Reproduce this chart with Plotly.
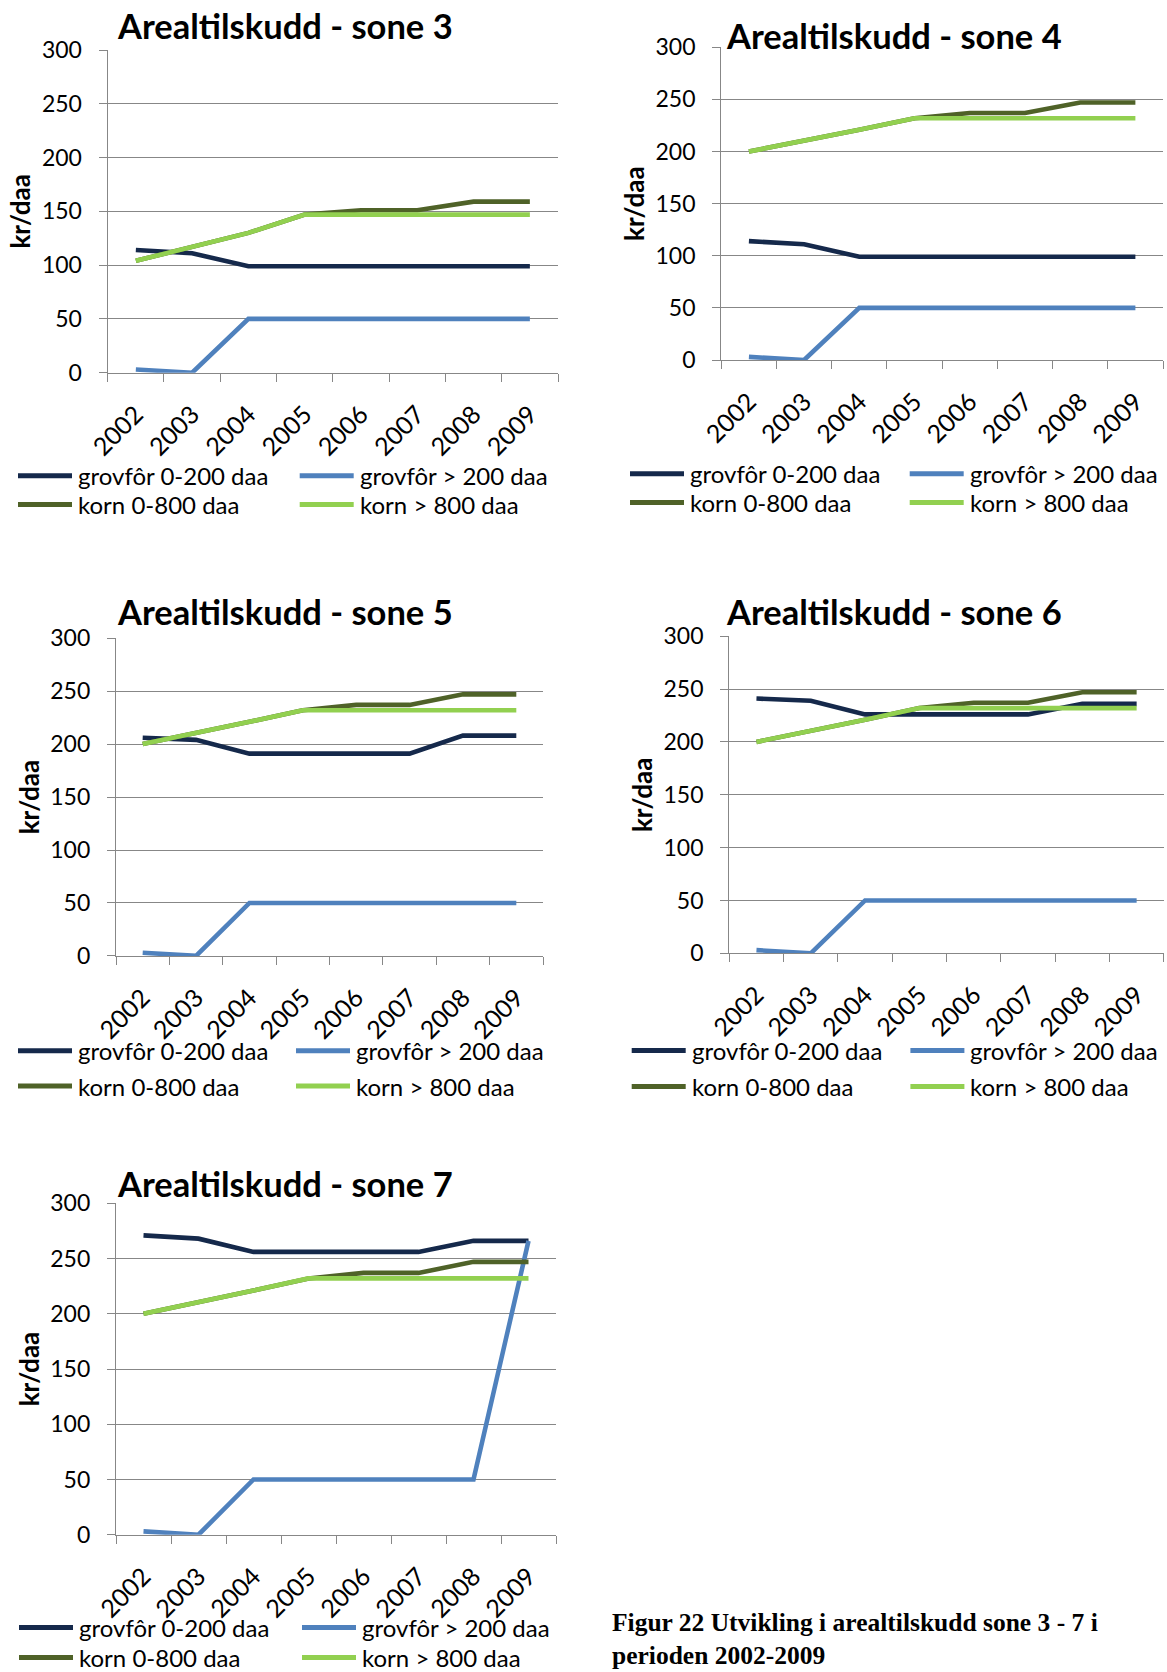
import plotly.graph_objects as go

# ---------------- data ----------------
years = ["2002", "2003", "2004", "2005", "2006", "2007", "2008", "2009"]
series_names = ["grovfôr 0-200 daa", "grovfôr > 200 daa", "korn 0-800 daa", "korn > 800 daa"]

sone3_grov_0_200 = [114, 111, 99, 99, 99, 99, 99, 99]
sone3_grov_over_200 = [3, 0, 50, 50, 50, 50, 50, 50]
sone3_korn_0_800 = [104, 117, 130, 147, 151, 151, 159, 159]
sone3_korn_over_800 = [104, 117, 130, 147, 147, 147, 147, 147]

sone4_grov_0_200 = [114, 111, 99, 99, 99, 99, 99, 99]
sone4_grov_over_200 = [3, 0, 50, 50, 50, 50, 50, 50]
sone4_korn_0_800 = [200, 210, 221, 232, 237, 237, 247, 247]
sone4_korn_over_800 = [200, 210, 221, 232, 232, 232, 232, 232]

sone5_grov_0_200 = [206, 204, 191, 191, 191, 191, 208, 208]
sone5_grov_over_200 = [3, 0, 50, 50, 50, 50, 50, 50]
sone5_korn_0_800 = [200, 210, 221, 232, 237, 237, 247, 247]
sone5_korn_over_800 = [200, 210, 221, 232, 232, 232, 232, 232]

sone6_grov_0_200 = [241, 239, 226, 226, 226, 226, 236, 236]
sone6_grov_over_200 = [3, 0, 50, 50, 50, 50, 50, 50]
sone6_korn_0_800 = [200, 210, 221, 232, 237, 237, 247, 247]
sone6_korn_over_800 = [200, 210, 221, 232, 232, 232, 232, 232]

sone7_grov_0_200 = [271, 268, 256, 256, 256, 256, 266, 266]
sone7_grov_over_200 = [3, 0, 50, 50, 50, 50, 50, 266]
sone7_korn_0_800 = [200, 210, 221, 232, 237, 237, 247, 247]
sone7_korn_over_800 = [200, 210, 221, 232, 232, 232, 232, 232]

panel_titles = ["Arealtilskudd - sone 3", "Arealtilskudd - sone 4", "Arealtilskudd - sone 5",
                "Arealtilskudd - sone 6", "Arealtilskudd - sone 7"]
y_title = "kr/daa"
y_ticks = [0, 50, 100, 150, 200, 250, 300]
caption_line1 = "Figur 22 Utvikling i arealtilskudd sone 3 - 7 i"
caption_line2 = "perioden 2002-2009"

panel_data = [
    [sone3_grov_0_200, sone3_grov_over_200, sone3_korn_0_800, sone3_korn_over_800],
    [sone4_grov_0_200, sone4_grov_over_200, sone4_korn_0_800, sone4_korn_over_800],
    [sone5_grov_0_200, sone5_grov_over_200, sone5_korn_0_800, sone5_korn_over_800],
    [sone6_grov_0_200, sone6_grov_over_200, sone6_korn_0_800, sone6_korn_over_800],
    [sone7_grov_0_200, sone7_grov_over_200, sone7_korn_0_800, sone7_korn_over_800],
]

# ---------------- styling / layout (pixels) ----------------
W, H = 1167, 1672
colors = ["#15294B", "#4F81BD", "#4F6228", "#92D050"]
FONT = "Lato"
GRID = "#878787"

# plot area: x0, x1, ytop, ybottom ; title centre x, title baseline y
# legend: col1 text x, col2 text x, row1 centre y, row2 centre y
panels = [
    dict(x0=107.7, x1=558, yt=50, yb=372.7, tx=284.6, tb=37.2, l1=76, l2=357.7, r1=475.8, r2=504.6),
    dict(x0=721.3, x1=1163, yt=47.3, yb=360, tx=894, tb=47.4, l1=688, l2=967.7, r1=473.8, r2=502.5),
    dict(x0=116, x1=543, yt=638.2, yb=955.9, tx=284.6, tb=623.3, l1=76, l2=354, r1=1050.7, r2=1086),
    dict(x0=729.3, x1=1163.8, yt=636.2, yb=953.3, tx=894, tb=623.3, l1=689.7, l2=968.4, r1=1050.4, r2=1086.6),
    dict(x0=116, x1=556, yt=1203.3, yb=1534.7, tx=284.6, tb=1195, l1=77, l2=360, r1=1627.5, r2=1657.5),
]

def px(x):
    return x / W

def py(y):
    return 1 - y / H

fig = go.Figure()
layout_updates = {}
annotations = []
shapes = []
KEY_LEN = 54

for i, (p, data) in enumerate(zip(panels, panel_data)):
    n = i + 1
    xa = "x" if n == 1 else f"x{n}"
    ya = "y" if n == 1 else f"y{n}"
    for k, (name, vals) in enumerate(zip(series_names, data)):
        fig.add_trace(go.Scatter(
            x=years, y=vals, name=name, mode="lines",
            line=dict(color=colors[k], width=4.6),
            xaxis=xa, yaxis=ya, showlegend=False,
            hoverinfo="skip",
        ))
        # legend entry (key line + label)
        tx = p["l1"] if k in (0, 2) else p["l2"]
        ry = p["r1"] if k in (0, 1) else p["r2"]
        shapes.append(dict(
            type="line", xref="paper", yref="paper",
            x0=px(tx - 4 - KEY_LEN), x1=px(tx - 4), y0=py(ry), y1=py(ry),
            line=dict(color=colors[k], width=5),
        ))
        annotations.append(dict(
            text=name, x=px(tx), y=py(ry), xref="paper", yref="paper",
            xanchor="left", yanchor="middle", showarrow=False,
            font=dict(family=FONT, size=24, color="black"),
        ))
    xkey = "xaxis" if n == 1 else f"xaxis{n}"
    ykey = "yaxis" if n == 1 else f"yaxis{n}"
    layout_updates[xkey] = dict(
        domain=[px(p["x0"]), px(p["x1"])], anchor=ya, type="category",
        categoryorder="array", categoryarray=years,
        range=[-0.5, 7.5], tickson="boundaries", ticks="outside", ticklen=8,
        tickcolor=GRID, tickwidth=1.3, showline=True, linecolor=GRID, linewidth=1.3,
        showgrid=False, zeroline=False, tickangle=-45, ticklabelstandoff=16,
        tickfont=dict(family=FONT, size=25, color="black"),
        automargin=False, fixedrange=True,
    )
    layout_updates[ykey] = dict(
        domain=[py(p["yb"]), py(p["yt"])], anchor=xa,
        range=[0, 300], tickvals=y_ticks, ticks="outside", ticklen=8,
        tickcolor=GRID, tickwidth=1.3, showline=True, linecolor=GRID, linewidth=1.3,
        showgrid=True, gridcolor=GRID, gridwidth=1.3, zeroline=False,
        tickfont=dict(family=FONT, size=23, color="black"),
        ticklabelstandoff=12,
        title=dict(text=f"<b>{y_title}</b>", font=dict(family=FONT, size=26, color="black"), standoff=3),
        automargin=False, fixedrange=True,
    )
    annotations.append(dict(
        text=f"<b>{panel_titles[i]}</b>", x=px(p["tx"]), y=py(p["tb"] - 12),
        xref="paper", yref="paper", xanchor="center", yanchor="middle",
        showarrow=False, font=dict(family=FONT, size=34.5, color="black"),
    ))

annotations.append(dict(
    text=f"<b>{caption_line1}</b><br><b>{caption_line2}</b>", x=px(611), y=py(1671),
    xref="paper", yref="paper", xanchor="left", yanchor="bottom", align="left",
    showarrow=False, borderpad=0,
    font=dict(family="Liberation Serif", size=25.5, color="black"),
))

fig.update_layout(
    width=W, height=H, margin=dict(l=0, r=0, t=0, b=0, autoexpand=False),
    paper_bgcolor="white", plot_bgcolor="white",
    showlegend=False, annotations=annotations, shapes=shapes,
    **layout_updates,
)

fig.write_html("out.html", config={"displayModeBar": False},
               post_script="document.body.style.margin='0';document.body.style.overflow='hidden';")
